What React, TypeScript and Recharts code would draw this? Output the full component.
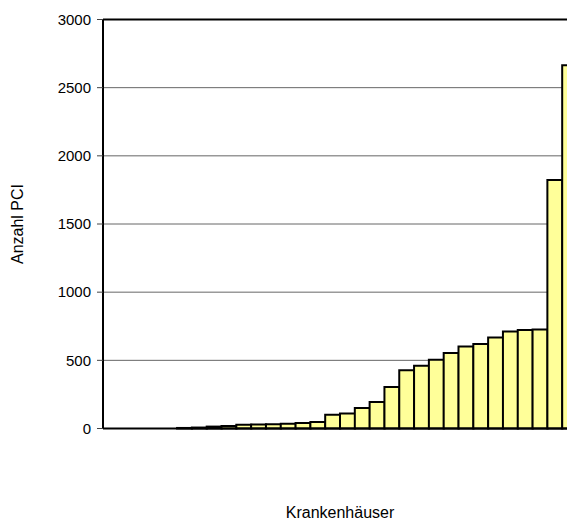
import { BarChart, Bar, XAxis, YAxis, CartesianGrid, ReferenceLine } from "recharts";

const HOSPITALS = Array.from({ length: 32 }, (_, i) => `K${i + 1}`);
const PCI_COUNTS = [
  0, 0, 0, 0, 0, 4, 7, 14, 18, 27, 30, 32, 35, 40, 48,
  100, 110, 150, 195, 305, 428, 460, 505, 553, 602, 620, 668, 712, 722, 727,
  1822, 2665
];
const Y_TICKS = [0, 500, 1000, 1500, 2000, 2500, 3000];

const data = HOSPITALS.map((name, i) => ({ name, value: PCI_COUNTS[i] }));

const FONT = "'Liberation Sans', Arial, sans-serif";

const App = () => {
  return (
    <div style={{ width: 567, height: 514, overflow: "hidden", fontFamily: FONT }}>
      <BarChart
        width={600}
        height={514}
        data={data}
        margin={{ top: 11.5, right: 31, bottom: 0, left: 0 }}
        barCategoryGap={0}
      >
        <CartesianGrid vertical={false} stroke="#666" strokeWidth={1} />
        <XAxis
          dataKey="name"
          height={93.5}
          tick={false}
          tickLine={false}
          axisLine={{ stroke: "#000", strokeWidth: 2 }}
          label={{
            value: "Krankenhäuser",
            position: "insideBottom",
            offset: 4,
            style: { fontSize: 16, fill: "#000", fontFamily: FONT },
          }}
        />
        <YAxis
          width={95}
          domain={[0, 3000]}
          ticks={Y_TICKS}
          interval={0}
          tickSize={6}
          tickMargin={6}
          tick={{ fontSize: 15, fill: "#000", fontFamily: FONT }}
          tickLine={{ stroke: "#444" }}
          axisLine={{ stroke: "#000", strokeWidth: 2 }}
          label={{
            value: "Anzahl PCI",
            angle: -90,
            position: "insideLeft",
            offset: 9,
            style: { fontSize: 16, fill: "#000", fontFamily: FONT, textAnchor: "middle" },
          }}
        />
        <ReferenceLine y={3000} stroke="#000" strokeWidth={2} />
        <Bar dataKey="value" fill="#FFFF99" stroke="#000" strokeWidth={2} isAnimationActive={false} />
      </BarChart>
    </div>
  );
};

export default App;
